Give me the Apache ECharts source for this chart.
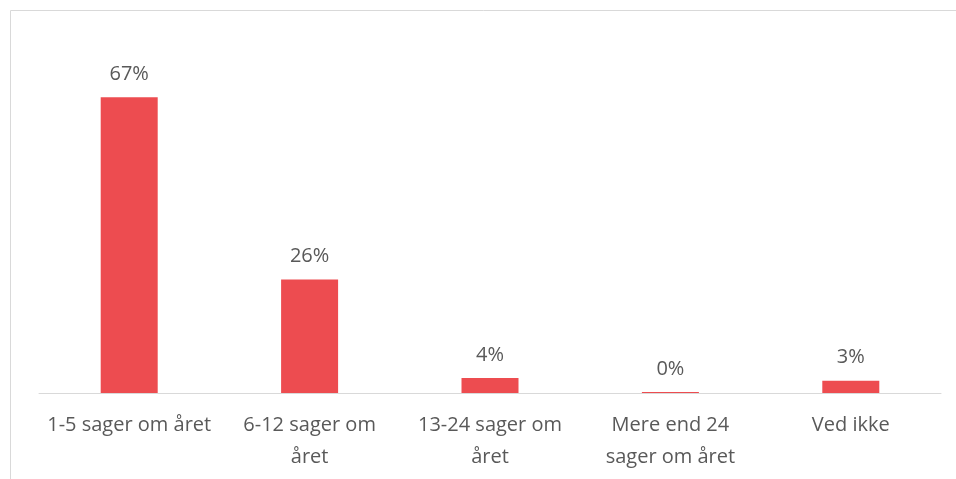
<!DOCTYPE html>
<html>
<head>
<meta charset="utf-8">
<script src="https://cdn.jsdelivr.net/npm/echarts@6/dist/echarts.min.js"></script>
<style>
  html, body { margin: 0; padding: 0; background: #fff; }
  #chart { width: 956px; height: 479px; }
</style>
</head>
<body>
<div id="chart"></div>
<script>
// kategorier og andele (%)
const categories = ['1-5 sager om året', '6-12 sager om\nåret', '13-24 sager om\nåret', 'Mere end 24\nsager om året', 'Ved ikke']
const values = [67, 25.7, 3.4, 0.2, 2.8]
const labels = ['67%', '26%', '4%', '0%', '3%']

const myChart = echarts.init(document.getElementById('chart'))
myChart.setOption({
  animation: false,
  textStyle: { fontFamily: 'Open Sans' },
  graphic: [
    {
      type: 'rect',
      shape: { x: 10.5, y: 10.5, width: 1200, height: 1200 },
      style: { fill: 'none', stroke: '#d9d9d9', lineWidth: 1 },
      silent: true,
    },
  ],
  grid: {
    left: 39,
    right: 15,
    top: 40,
    bottom: 86,
  },
  xAxis: {
    type: 'category',
    data: categories,
    axisLine: { lineStyle: { color: '#d9d9d9', width: 1 } },
    axisTick: { show: false },
    axisLabel: {
      color: '#595959',
      fontSize: 20,
      lineHeight: 32,
      margin: 16,
      interval: 0,
    },
  },
  yAxis: {
    type: 'value',
    min: 0,
    max: 80,
    show: false,
    splitLine: { show: false },
  },
  series: [
    {
      type: 'bar',
      data: values,
      barWidth: 57,
      itemStyle: { color: '#ED4C50' },
      label: {
        show: true,
        position: 'top',
        distance: 13,
        color: '#595959',
        fontSize: 20,
        formatter: (p) => labels[p.dataIndex],
      },
    },
  ],
})
</script>
</body>
</html>
